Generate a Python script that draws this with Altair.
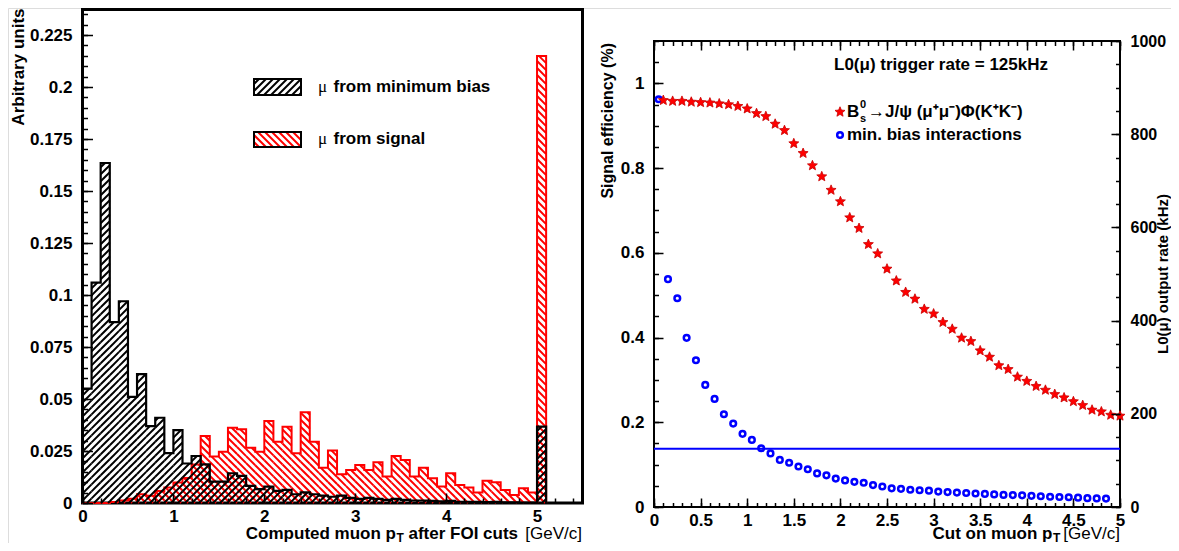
import math
import altair as alt
import pandas as pd

# ---------------- data ----------------
bin_edges = [round(0.1 * i, 1) for i in range(52)]  # 0.0 ... 5.1 (last bin = overflow)

minbias_hist = [0.055, 0.106, 0.1635, 0.087, 0.097, 0.051, 0.062, 0.037, 0.041, 0.024,
                0.035, 0.019, 0.0226, 0.0186, 0.0103, 0.0103, 0.0143, 0.013, 0.0082, 0.0067,
                0.0079, 0.0058, 0.0063, 0.0042, 0.0051, 0.0042, 0.0035, 0.003, 0.0035, 0.0025,
                0.002, 0.0025, 0.002, 0.0015, 0.002, 0.0015, 0.0012, 0.0012, 0.001, 0.0008,
                0.001, 0.0006, 0.0006, 0.0005, 0.0004, 0.0005, 0.0003, 0.0003, 0.0002, 0.0002,
                0.0367]
signal_hist = [0.0, 0.0, 0.0, 0.0005, 0.0012, 0.002, 0.0042, 0.0035, 0.0058, 0.0075,
               0.0098, 0.012, 0.0185, 0.0322, 0.0223, 0.0247, 0.0362, 0.0355, 0.0266, 0.0247,
               0.0394, 0.0295, 0.0367, 0.0239, 0.0436, 0.0295, 0.017, 0.0252, 0.0138, 0.0159,
               0.0183, 0.0159, 0.0196, 0.0127, 0.0226, 0.0207, 0.0127, 0.017, 0.0119, 0.0079,
               0.0143, 0.0087, 0.0074, 0.0051, 0.0107, 0.01, 0.0063, 0.0038, 0.0071, 0.0051,
               0.215]

cut_signal = [round(0.1 * i, 1) for i in range(1, 51)]
signal_eff = [0.960, 0.958, 0.958, 0.956, 0.955, 0.954, 0.952, 0.950, 0.946, 0.940,
              0.929, 0.922, 0.904, 0.889, 0.858, 0.835, 0.806, 0.780, 0.748, 0.721,
              0.683, 0.658, 0.620, 0.598, 0.562, 0.534, 0.507, 0.491, 0.467, 0.456,
              0.436, 0.420, 0.399, 0.391, 0.369, 0.354, 0.334, 0.325, 0.307, 0.297,
              0.285, 0.276, 0.266, 0.258, 0.249, 0.240, 0.229, 0.225, 0.217, 0.215]

cut_minbias = [round(0.05 + 0.1 * i, 2) for i in range(49)]
minbias_rate = [875, 489, 448, 363, 315, 262, 232, 199, 179, 157,
                144, 126, 115, 101, 95, 87, 81, 72, 68, 61,
                57, 54, 52, 47, 44, 40, 39, 37, 36, 35,
                33, 32, 31, 30, 29, 28, 27, 26, 25.5, 25,
                24, 23, 22, 21.5, 21, 20, 19, 18.5, 18]
trigger_rate = [125]

left_x_major = [0, 1, 2, 3, 4, 5]
left_x_minor = [round(0.2 * i, 1) for i in range(28)]
left_y_major = [round(0.025 * i, 3) for i in range(10)]
left_y_minor = [round(0.005 * i, 3) for i in range(48)]
right_x_major = [round(0.5 * i, 1) for i in range(11)]
right_x_minor = [round(0.1 * i, 1) for i in range(51)]
right_eff_major = [0, 0.2, 0.4, 0.6, 0.8, 1.0]
right_eff_minor = [round(0.05 * i, 2) for i in range(23)]
right_rate_major = [0, 200, 400, 600, 800, 1000]
right_rate_minor = [50 * i for i in range(21)]

# ---------------- layout (one canvas, two framed panels) ----------------
FONT = "Liberation Sans"
W, H = 1163, 535
# left panel frame
XL0, XL1, YL0, YL1 = 74.5, 574.5, 495.0, 1.5
X1MAX, Y1MAX = 5.5, 0.2373
# right panel frame
XR0, XR1, YR0, YR1 = 646.0, 1112.0, 499.0, 33.0
X2MAX, EFF_MAX, RATE_MAX = 5.0, 1.1, 1000.0
TITLE_BASE = 531
RED = "#ff0000"
BLUE = "#0000ff"

DUMMY = pd.DataFrame({"v": [0.0]})

xsL = alt.Scale(domain=[0, X1MAX], range=[XL0, XL1], nice=False, zero=False)
ysL = alt.Scale(domain=[0, Y1MAX], range=[YL0, YL1], nice=False, zero=False)
xsR = alt.Scale(domain=[0, X2MAX], range=[XR0, XR1], nice=False, zero=False)
ysE = alt.Scale(domain=[0, EFF_MAX], range=[YR0, YR1], nice=False, zero=False)
ysR = alt.Scale(domain=[0, RATE_MAX], range=[YR0, YR1], nice=False, zero=False)


def px(x):
    return XL0 + x / X1MAX * (XL1 - XL0)


def py(v):
    return YL0 - v / Y1MAX * (YL0 - YL1)


def inv_x(p):
    return (p - XL0) / (XL1 - XL0) * X1MAX


def inv_y(p):
    return (YL0 - p) / (YL0 - YL1) * Y1MAX


def hatch(rects, forward, step):
    out = []
    for a, b, t, u in rects:
        if b - a < 0.5 or u - t < 0.5:
            continue
        if forward:  # '/' : x + y = c
            k0, k1 = math.ceil((a + t) / step), math.floor((b + u) / step)
            for k in range(k0, k1 + 1):
                c = k * step
                lo, hi = max(a, c - u), min(b, c - t)
                if hi - lo > 0.3:
                    out.append((lo, c - lo, hi, c - hi))
        else:  # '\' : y - x = c
            k0, k1 = math.ceil((t - b) / step), math.floor((u - a) / step)
            for k in range(k0, k1 + 1):
                c = k * step
                lo, hi = max(a, t - c), min(b, u - c)
                if hi - lo > 0.3:
                    out.append((lo, lo + c, hi, hi + c))
    return pd.DataFrame({
        "x": [inv_x(s[0]) for s in out], "y": [inv_y(s[1]) for s in out],
        "x2": [inv_x(s[2]) for s in out], "y2": [inv_y(s[3]) for s in out],
    })


def bar_rects(hist):
    return [(px(bin_edges[i]), px(bin_edges[i + 1]), py(v), YL0) for i, v in enumerate(hist) if v > 0]


def seg_layer(df, color, width):
    return alt.Chart(df).mark_rule(color=color, strokeWidth=width, strokeCap="butt").encode(
        x=alt.X("x:Q", scale=xsL, axis=None), x2="x2:Q",
        y=alt.Y("y:Q", scale=ysL, axis=None), y2="y2:Q")


def outline_layer(hist, color, width):
    n = len(hist)
    df = pd.DataFrame({"x": [0.0] + bin_edges[:n] + [bin_edges[n]],
                       "y": [0.0] + list(hist) + [0.0]})
    df["i"] = range(len(df))
    return alt.Chart(df).mark_line(interpolate="step-after", color=color, strokeWidth=width).encode(
        x=alt.X("x:Q", scale=xsL, axis=None), y=alt.Y("y:Q", scale=ysL, axis=None),
        order="i:Q")


def frame_layer(xs, ys, xmax, ymax, width):
    df = pd.DataFrame({"x": [0.0], "x2": [xmax], "y": [0.0], "y2": [ymax]})
    return alt.Chart(df).mark_rect(fill="transparent", stroke="black", strokeWidth=width).encode(
        x=alt.X("x:Q", scale=xs, axis=None), x2="x2:Q",
        y=alt.Y("y:Q", scale=ys, axis=None), y2="y2:Q")


def txt(text, x, y, size=17, weight="bold", align="left", baseline="middle", angle=0, font=FONT):
    kw = dict(text=text, fontSize=size, fontWeight=weight, align=align, baseline=baseline,
              font=font, color="black")
    if angle:
        kw["angle"] = angle
    return alt.Chart(DUMMY).mark_text(**kw).encode(x=alt.value(x), y=alt.value(y))


TICK = dict(labels=False, domain=False, grid=False, title=None, ticks=True,
            tickColor="black", tickWidth=1.5, zindex=2)


def label_opts(size=17):
    return dict(ticks=False, tickSize=0, domain=False, grid=False, title=None, labelFont=FONT,
                labelFontSize=size, labelFontWeight="bold", labelColor="black",
                labelOverlap=False, labelFlush=False, zindex=2,
                labelExpr="format(datum.value, '.4~g')")


def ax_x(scale, **kw):
    return alt.Chart(DUMMY).mark_point(opacity=0).encode(
        x=alt.X("v:Q", scale=scale, axis=alt.Axis(**kw)))


def ax_y(scale, **kw):
    return alt.Chart(DUMMY).mark_point(opacity=0).encode(
        y=alt.Y("v:Q", scale=scale, axis=alt.Axis(**kw)))


# ---------------- left panel ----------------
HATCH_STEP = 7
leg_black = (246, 293, 71, 87)
leg_red = (246, 293, 124, 139)


def box_layer(r):
    a, b, t, u = r
    df = pd.DataFrame({"x": [inv_x(a)], "x2": [inv_x(b)], "y": [inv_y(t)], "y2": [inv_y(u)]})
    return alt.Chart(df).mark_rect(fill="transparent", stroke="black", strokeWidth=2).encode(
        x=alt.X("x:Q", scale=xsL, axis=None), x2="x2:Q",
        y=alt.Y("y:Q", scale=ysL, axis=None), y2="y2:Q")


left_layers = [
    frame_layer(xsL, ysL, X1MAX, Y1MAX, 3),
    seg_layer(hatch(bar_rects(signal_hist), False, HATCH_STEP), RED, 2),
    outline_layer(signal_hist, RED, 2),
    seg_layer(hatch(bar_rects(minbias_hist), True, HATCH_STEP), "black", 2),
    outline_layer(minbias_hist, "black", 2.2),
    seg_layer(hatch([leg_black], True, HATCH_STEP), "black", 2),
    box_layer(leg_black),
    seg_layer(hatch([leg_red], False, HATCH_STEP), RED, 2),
    box_layer(leg_red),
    txt("\u03bc", 310, 79, weight="normal", font="Liberation Serif"),
    txt("from minimum bias", 325.5, 79),
    txt("\u03bc", 310, 131, weight="normal", font="Liberation Serif"),
    txt("from signal", 325.5, 131),
    ax_x(xsL, orient="bottom", offset=YL0 - H, values=left_x_major, labelPadding=5,
         **label_opts()),
    ax_x(xsL, orient="top", offset=-YL0, values=left_x_major, tickSize=10, **TICK),
    ax_x(xsL, orient="top", offset=-YL0, values=left_x_minor, tickSize=5, **TICK),
    ax_y(ysL, orient="left", offset=-XL0, values=left_y_major, labelPadding=10.5,
         **label_opts()),
    ax_y(ysL, orient="right", offset=XL0 - W, values=left_y_major, tickSize=10, **TICK),
    ax_y(ysL, orient="right", offset=XL0 - W, values=left_y_minor, tickSize=5, **TICK),
    txt("Arbitrary units", 10.5, 0.5, align="right", angle=270),
    txt("Computed muon p", 388, TITLE_BASE, align="right", baseline="alphabetic"),
    txt("T", 388.5, TITLE_BASE + 2.5, size=12, baseline="alphabetic"),
    txt("after FOI cuts", 400.5, TITLE_BASE, baseline="alphabetic"),
    txt("[GeV/c]", 574, TITLE_BASE, weight="normal", align="right", baseline="alphabetic"),
]

# ---------------- right panel ----------------
star_pts = []
for k in range(10):
    r = 1.0 if k % 2 == 0 else 0.45
    ang = math.radians(-90 + 36 * k)
    star_pts.append(f"{r * math.cos(ang):.3f},{r * math.sin(ang):.3f}")
STAR = "M" + "L".join(star_pts) + "Z"

eff_df = pd.DataFrame({"cut": cut_signal, "eff": signal_eff})
rate_df = pd.DataFrame({"cut": cut_minbias, "rate": minbias_rate})
trig_df = pd.DataFrame({"rate": trigger_rate, "x": [0.0], "x2": [X2MAX]})

right_layers = [
    frame_layer(xsR, ysE, X2MAX, EFF_MAX, 2),
    alt.Chart(trig_df).mark_rule(color=BLUE, strokeWidth=2).encode(
        x=alt.X("x:Q", scale=xsR, axis=None), x2="x2:Q",
        y=alt.Y("rate:Q", scale=ysR, axis=None)),
    alt.Chart(rate_df).mark_point(shape="circle", filled=False, color=BLUE, strokeWidth=2.5,
                                  size=32, opacity=1).encode(
        x=alt.X("cut:Q", scale=xsR, axis=None), y=alt.Y("rate:Q", scale=ysR, axis=None)),
    alt.Chart(eff_df).mark_point(shape=STAR, filled=True, color=RED, size=110, opacity=1,
                                 stroke="#c80000", strokeWidth=0.8).encode(
        x=alt.X("cut:Q", scale=xsR, axis=None), y=alt.Y("eff:Q", scale=ysE, axis=None)),
    alt.Chart(DUMMY).mark_point(shape=STAR, filled=True, color=RED, size=110, opacity=1,
                                stroke="#c80000", strokeWidth=0.8).encode(
        x=alt.value(832), y=alt.value(104)),
    alt.Chart(DUMMY).mark_point(shape="circle", filled=False, color=BLUE, strokeWidth=2.5,
                                size=32, opacity=1).encode(x=alt.value(832), y=alt.value(127)),
    txt("B", 839, 104),
    txt("0", 852, 97, size=11),
    txt("s", 852, 111, size=11),
    txt("\u2192J/\u03c8 (\u03bc\u207a\u03bc\u207b)\u03a6(K\u207aK\u207b)", 860, 104),
    txt("min. bias interactions", 839, 127),
    txt("L0(\u03bc) trigger rate = 125kHz", 933, 57, align="center"),
    ax_x(xsR, orient="bottom", offset=YR0 - H, values=right_x_major, labelPadding=5,
         **label_opts()),
    ax_x(xsR, orient="top", offset=-YR0, values=right_x_major, tickSize=9, **TICK),
    ax_x(xsR, orient="top", offset=-YR0, values=right_x_minor, tickSize=4.5, **TICK),
    ax_x(xsR, orient="bottom", offset=YR1 - H, values=right_x_major, tickSize=9, **TICK),
    ax_x(xsR, orient="bottom", offset=YR1 - H, values=right_x_minor, tickSize=4.5, **TICK),
    ax_y(ysE, orient="left", offset=-XR0, values=right_eff_major, labelPadding=10,
         **label_opts()),
    ax_y(ysE, orient="right", offset=XR0 - W, values=right_eff_major, tickSize=9, **TICK),
    ax_y(ysE, orient="right", offset=XR0 - W, values=right_eff_minor, tickSize=4.5, **TICK),
    ax_y(ysR, orient="right", offset=XR1 - W, values=right_rate_major, labelPadding=10,
         **label_opts(16)),
    ax_y(ysR, orient="left", offset=-XR1, values=right_rate_major, tickSize=9, **TICK),
    ax_y(ysR, orient="left", offset=-XR1, values=right_rate_minor, tickSize=4.5, **TICK),
    txt("Signal efficiency (%)", 600, 35, size=16, align="right", angle=270),
    txt("L0(\u03bc) output rate (kHz)", 1155, 266, size=15, align="center", angle=270),
    txt("Cut on muon p", 1044.5, TITLE_BASE, align="right", baseline="alphabetic"),
    txt("T", 1045, TITLE_BASE + 2.5, size=12, baseline="alphabetic"),
    txt("[GeV/c]", 1112, TITLE_BASE, weight="normal", align="right", baseline="alphabetic"),
]

chart = alt.layer(*(left_layers + right_layers)).resolve_scale(
    x="independent", y="independent").resolve_axis(x="independent", y="independent").properties(
    width=W, height=H, padding=0, background="white",
    autosize=alt.AutoSizeParams(type="none")
).configure_view(stroke="transparent").configure(font=FONT)

chart.save("out.html", embed_options={"renderer": "svg", "actions": False})
